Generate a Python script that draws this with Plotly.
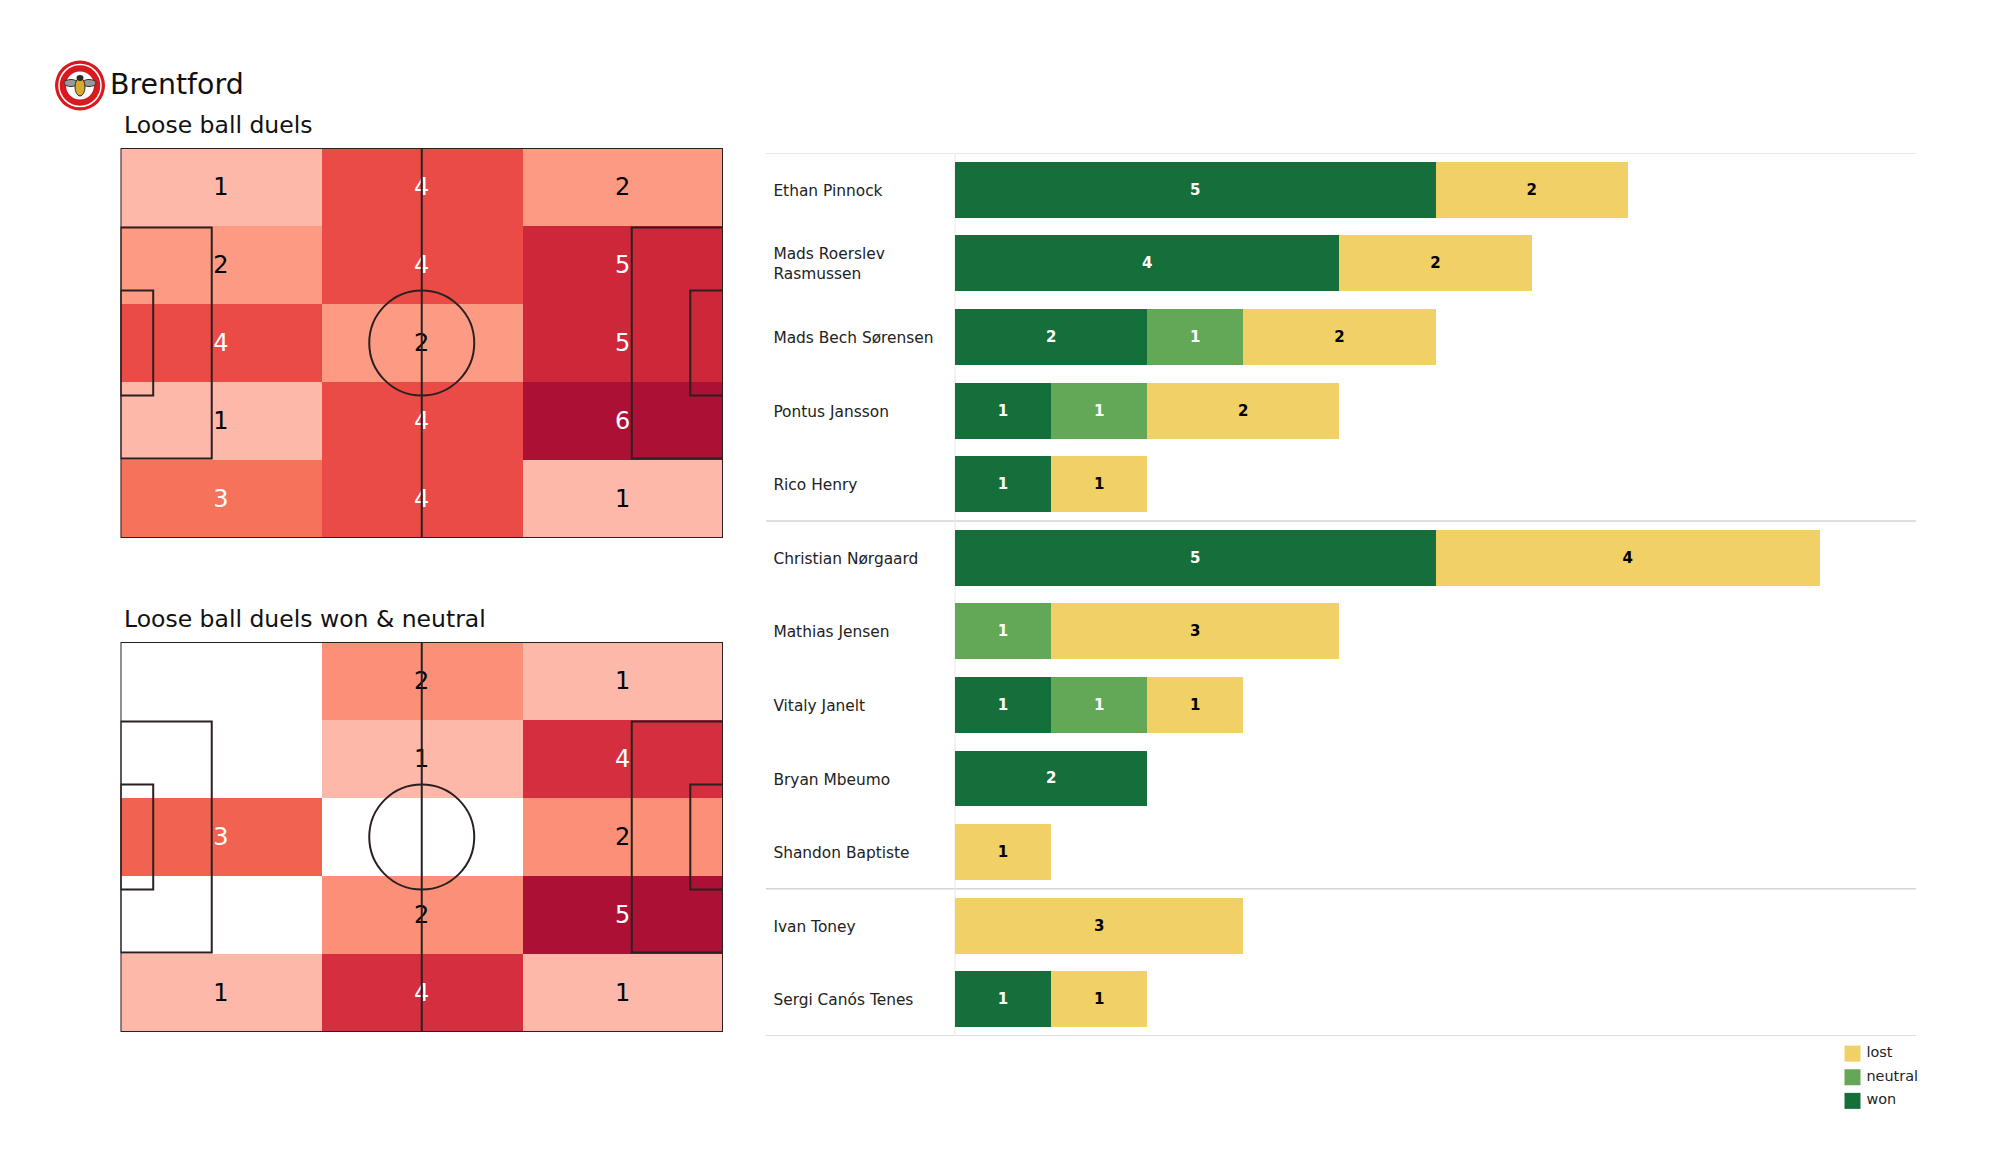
import plotly.graph_objects as go

# ---------- data ----------
players = ["Ethan Pinnock", "Mads Roerslev<br>Rasmussen", "Mads Bech Sørensen", "Pontus Jansson",
           "Rico Henry", "Christian Nørgaard", "Mathias Jensen", "Vitaly Janelt",
           "Bryan Mbeumo", "Shandon Baptiste", "Ivan Toney", "Sergi Canós Tenes"]
won = [5, 4, 2, 1, 1, 5, None, 1, 2, None, None, 1]
neutral = [None, None, 1, 1, None, None, 1, 1, None, None, None, None]
lost = [2, 2, 2, 2, 1, 4, 3, 1, None, 1, 3, 1]
group_breaks = [4.5, 9.5]

duels_all = [[1, 4, 2], [2, 4, 5], [4, 2, 5], [1, 4, 6], [3, 4, 1]]
duels_won = [[0, 2, 1], [0, 1, 4], [3, 0, 2], [0, 2, 5], [1, 4, 1]]
scale_all = ["#ffffff", "#fdb8aa", "#fc9a84", "#f4735a", "#eb4b47", "#cf273a", "#ad1035"]
scale_won = ["#ffffff", "#fdb8aa", "#fb8f77", "#f26250", "#d52f3f", "#ad1035"]

col_edges = [0, 35, 70, 105]
row_edges = [0, 13.6, 27.2, 40.8, 54.4, 68]

legend_labels = ["lost", "neutral", "won"]
legend_colors = ["#f1d066", "#62a856", "#146f3b"]

# ---------- layout helpers ----------
W, H = 2000, 1175
def xd(a, b): return [a / W, b / W]
def yd(t, b): return [1 - b / H, 1 - t / H]

fig = go.Figure()
LINE = "#2b2020"

def add_pitch(z, colors, ax, title, top):
    n = ax if ax > 1 else ""
    xr, yr = f"x{n}", f"y{n}"
    vmax = len(colors) - 1
    cs = []
    for i, c in enumerate(colors):
        cs += [[max(i - 0.5, 0) / vmax, c], [min(i + 0.5, vmax) / vmax, c]]
    fig.add_trace(go.Heatmap(z=z, x=col_edges, y=row_edges, zmin=0, zmax=vmax, colorscale=cs,
                             showscale=False, hoverinfo="skip", xaxis=xr, yaxis=yr, xgap=0, ygap=0))
    cx, cy, ct, cc = [], [], [], []
    for r, row in enumerate(z):
        for c, v in enumerate(row):
            if v:
                cx.append((col_edges[c] + col_edges[c + 1]) / 2)
                cy.append((row_edges[r] + row_edges[r + 1]) / 2 + 0.35)
                ct.append(str(v))
                cc.append("white" if v >= 3 else "black")
    # pitch markings
    rects = [(0, 0, 105, 68), (0, 13.84, 15.9, 54.16), (89.1, 13.84, 105, 54.16),
             (0, 24.84, 5.7, 43.16), (99.3, 24.84, 105, 43.16)]
    for x0, y0, x1, y1 in rects:
        fig.add_shape(type="rect", x0=x0, y0=y0, x1=x1, y1=y1, xref=xr, yref=yr,
                      line=dict(color=LINE, width=2), layer="above")
    fig.add_shape(type="line", x0=52.5, x1=52.5, y0=0, y1=68, xref=xr, yref=yr,
                  line=dict(color=LINE, width=2), layer="above")
    fig.add_shape(type="circle", x0=52.5 - 9.15, x1=52.5 + 9.15, y0=34 - 9.15, y1=34 + 9.15,
                  xref=xr, yref=yr, line=dict(color=LINE, width=2), layer="above")
    fig.add_trace(go.Scatter(x=cx, y=cy, text=ct, mode="text", textposition="middle center",
                             textfont=dict(color=cc, size=24, family="DejaVu Sans"),
                             hoverinfo="skip", xaxis=xr, yaxis=yr, showlegend=False))
    ka = dict(visible=False, fixedrange=True)
    fig.update_layout(**{
        f"xaxis{n}": dict(domain=xd(120.5, 723), range=[0, 105], **ka),
        f"yaxis{n}": dict(domain=yd(top, top + 390), range=[68, 0], **ka),
    })
    fig.add_annotation(text=title, xref="paper", yref="paper", x=123 / W, y=1 - (top - 8) / H,
                       xanchor="left", yanchor="bottom", showarrow=False, borderpad=0,
                       font=dict(size=23.5, color="#111111", family="DejaVu Sans"))

add_pitch(duels_all, scale_all, 1, "Loose ball duels", 148)
add_pitch(duels_won, scale_won, 2, "Loose ball duels won &amp; neutral", 642)

# ---------- stacked bars ----------
rows = list(range(len(players)))
for name, vals, col, tc in [("won", won, legend_colors[2], "white"),
                            ("neutral", neutral, legend_colors[1], "white"),
                            ("lost", lost, legend_colors[0], "black")]:
    fig.add_trace(go.Bar(name=name, y=rows, x=vals, orientation="h", width=0.76,
                         marker=dict(color=col, line=dict(width=0)),
                         text=vals, textposition="inside", insidetextanchor="middle", textangle=0,
                         constraintext="none",
                         textfont=dict(color=tc, size=15, family="DejaVu Sans", weight="bold"),
                         xaxis="x3", yaxis="y3", showlegend=False, hovertemplate="%{y}: %{x}<extra>" + name + "</extra>"))
fig.add_trace(go.Scatter(x=[-1.89] * len(players), y=[r + 0.03 for r in rows], text=players, mode="text",
                         textposition="middle right",
                         textfont=dict(size=15.4, color="#222222", family="DejaVu Sans"),
                         xaxis="x3", yaxis="y3", showlegend=False, hoverinfo="skip"))
SEP = "#d4d4d4"
for yy in [-0.5, 11.5] + group_breaks:
    fig.add_shape(type="line", x0=-1.967, x1=10, y0=yy, y1=yy, xref="x3", yref="y3",
                  line=dict(color=SEP if yy != -0.5 else "#e2e2e2", width=1.5), layer="below")
fig.add_shape(type="line", x0=0, x1=0, y0=-0.5, y1=11.5, xref="x3", yref="y3",
              line=dict(color="#ececec", width=1.2), layer="below")
fig.update_layout(
    barmode="stack", bargap=0.24,
    xaxis3=dict(domain=xd(766, 1916), range=[-1.967, 10], visible=False, fixedrange=True),
    yaxis3=dict(domain=yd(153, 1036), range=[11.5, -0.5], visible=False, fixedrange=True),
)

# ---------- legend drawn on a small axis ----------
fig.add_trace(go.Scatter(x=[0] * 3, y=list(range(3)), mode="markers",
                         marker=dict(symbol="square", size=16, color=legend_colors),
                         xaxis="x4", yaxis="y4", showlegend=False, hoverinfo="skip"))
fig.add_trace(go.Scatter(x=[14] * 3, y=list(range(3)), text=legend_labels, mode="text",
                         textposition="middle right",
                         textfont=dict(size=14.4, color="#222222", family="DejaVu Sans"),
                         xaxis="x4", yaxis="y4", showlegend=False, hoverinfo="skip"))
fig.update_layout(
    xaxis4=dict(domain=xd(1844, 1944), range=[-8.5, 91.5], visible=False, fixedrange=True),
    yaxis4=dict(domain=yd(1030, 1125), range=[2 + 24 / 23.5, 0 - 23.5 / 23.5], visible=False, fixedrange=True),
)

# ---------- badge and club title ----------
bx = dict(xref="paper", yref="paper", layer="above")
def disc(cx, cy, rx, ry, fill, line=None, lw=0):
    fig.add_shape(type="circle", x0=(cx - rx) / W, x1=(cx + rx) / W, y0=1 - (cy + ry) / H, y1=1 - (cy - ry) / H,
                  fillcolor=fill, line=dict(color=line or fill, width=lw), **bx)
disc(80, 85.5, 25, 25, "#d81920")
disc(80, 85.5, 21, 21, "#d81920", "white", 1.5)
disc(80, 85.5, 14, 14, "white")
disc(71, 83, 7, 3.5, "#9a9a9a", "#333333", 1)
disc(89, 83, 7, 3.5, "#9a9a9a", "#333333", 1)
disc(80, 87, 5, 9, "#d9a92c", "#2a2a2a", 1)
disc(80, 78, 3.5, 3, "#2a2a2a")
fig.add_annotation(text="Brentford", xref="paper", yref="paper", x=109 / W, y=1 - 84 / H,
                   xanchor="left", yanchor="middle", showarrow=False, borderpad=0,
                   font=dict(size=28.4, color="#111111", family="DejaVu Sans"))

fig.update_layout(width=W, height=H, autosize=False, margin=dict(l=0, r=0, t=0, b=0),
                  paper_bgcolor="white", plot_bgcolor="rgba(0,0,0,0)", showlegend=False,
                  font=dict(family="DejaVu Sans"))
fig.write_html("out.html", post_script="document.body.style.margin='0';",
               config={"displayModeBar": False})
